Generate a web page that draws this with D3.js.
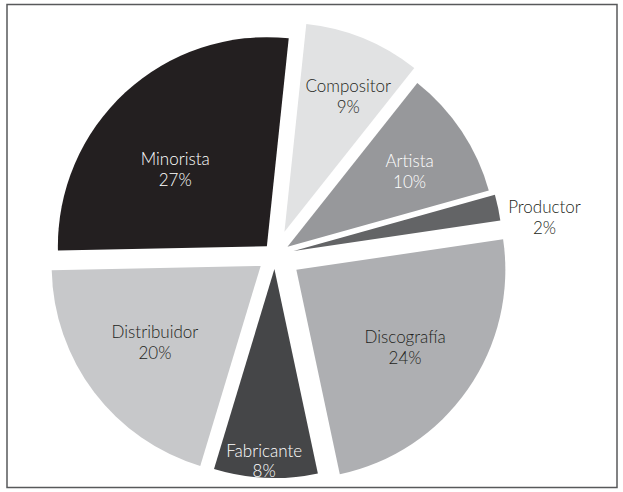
<!DOCTYPE html>
<html>
<head>
<meta charset="utf-8">
<script src="https://cdn.jsdelivr.net/npm/d3@7"></script>
<style>
  body { margin: 0; background: #fff; }
  text { font-family: Lato, "Open Sans", sans-serif; font-size: 17px; font-weight: 300; }
</style>
</head>
<body>
<div id="chart"></div>
<script>
// data
var categories = ["Compositor", "Artista", "Productor", "Discografía", "Fabricante", "Distribuidor", "Minorista"];
var shares = [9, 10, 2, 24, 8, 20, 27];
var fills = ["#e1e2e3", "#97989b", "#636466", "#aeafb2", "#454648", "#c7c8ca", "#231f20"];
var labelColors = ["#231f20", "#ffffff", "#231f20", "#231f20", "#ffffff", "#231f20", "#ffffff"];

// layout per slice: explode distance, label radius, label angle nudge (deg)
var explode = [25, 15, 19, 26, 14, 18, 12];
var labelR = [174, 158, 272, 160, 207, 149, 131];
var labelNudge = [2.7, 2, 4.2, 0.8, 0.6, 0.9, -7];

var width = 623, height = 492;
var cx = 275, cy = 255, radius = 209;
var start = 6 * Math.PI / 180;

var rows = categories.map(function(c, i) {
  return {name: c, share: shares[i], fill: fills[i], color: labelColors[i],
          explode: explode[i], labelR: labelR[i], nudge: labelNudge[i]};
});

var svg = d3.select("#chart").append("svg")
  .attr("width", width)
  .attr("height", height);

svg.append("rect")
  .attr("x", 7).attr("y", 4.5)
  .attr("width", 610).attr("height", 483)
  .attr("fill", "none")
  .attr("stroke", "#58595b")
  .attr("stroke-width", 1.5);

var pie = d3.pie()
  .sort(null)
  .value(function(d) { return d.share; })
  .startAngle(start)
  .endAngle(start + 2 * Math.PI);

var arc = d3.arc().innerRadius(0).outerRadius(radius);

var g = svg.append("g")
  .attr("transform", "translate(" + cx + "," + cy + ")");

var slices = g.selectAll(".slice")
  .data(pie(rows))
  .enter().append("g")
  .attr("class", "slice")
  .attr("transform", function(d) {
    var mid = (d.startAngle + d.endAngle) / 2;
    var e = d.data.explode;
    return "translate(" + (e * Math.sin(mid)) + "," + (-e * Math.cos(mid)) + ")";
  });

slices.append("path")
  .attr("d", arc)
  .style("fill", function(d) { return d.data.fill; });

var labels = g.selectAll(".label")
  .data(pie(rows))
  .enter().append("g")
  .attr("class", "label")
  .style("fill", function(d) { return d.data.color; })
  .attr("transform", function(d) {
    var mid = (d.startAngle + d.endAngle) / 2 + d.data.nudge * Math.PI / 180;
    var r = d.data.labelR;
    return "translate(" + (r * Math.sin(mid)) + "," + (-r * Math.cos(mid)) + ")";
  });

labels.append("text")
  .attr("text-anchor", "middle")
  .attr("y", -5)
  .text(function(d) { return d.data.name; });

labels.append("text")
  .attr("text-anchor", "middle")
  .attr("y", 15.5)
  .text(function(d) { return d.data.share + "%"; });
</script>
</body>
</html>
